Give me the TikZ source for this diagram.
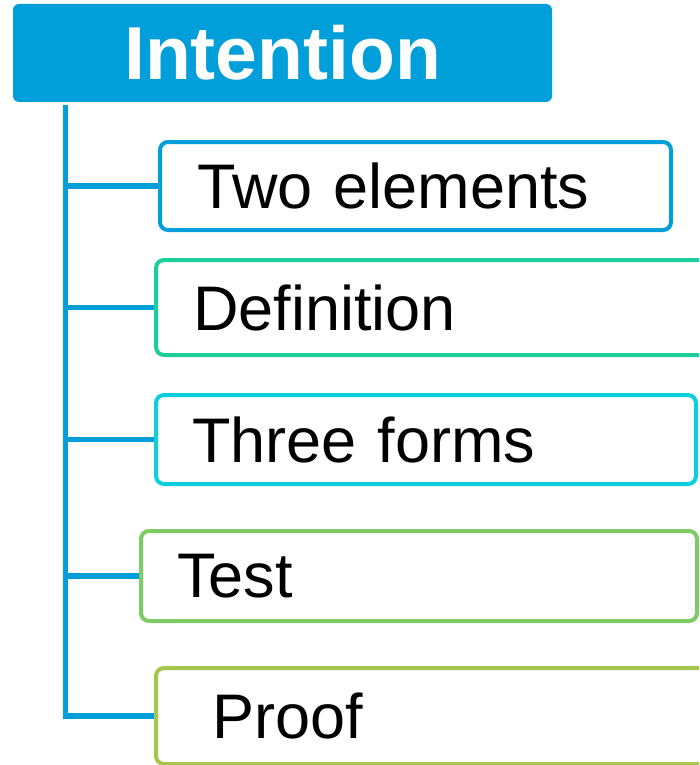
\documentclass[tikz,border=0pt]{standalone}
\usepackage{fontspec}
\setmainfont{Liberation Sans}
\usepackage{tikz}
\usetikzlibrary{positioning}
\definecolor{headblue}{RGB}{0,159,218}
\definecolor{defgreen}{RGB}{27,206,154}
\definecolor{formcyan}{RGB}{12,206,220}
\definecolor{testgreen}{RGB}{125,203,98}
\definecolor{proofgreen}{RGB}{165,198,74}
\tikzstyle{topic}=[rectangle,rounded corners=6pt,fill=headblue,text=white,inner sep=0pt,font=\fontsize{75}{80}\selectfont\bfseries]
\tikzstyle{item}=[rectangle,rounded corners=8pt,draw,line width=4pt,fill=white,inner ysep=0pt,align=left,font=\fontsize{63}{70}\selectfont]
\tikzstyle{branch}=[draw=headblue,line width=5.5pt]

\begin{document}
\begin{tikzpicture}[x=1pt,y=-1pt]
	\useasboundingbox (0,0) rectangle (699,765);
	\clip (0,0) rectangle (699,765);
	\node[topic,minimum width=539pt,minimum height=98pt] (intention) at (282.5,53) {Intention};
	\node[item,draw=headblue,inner xsep=37pt,text width=437pt,minimum height=88pt] (two) at (415.5,186) {Two elements};
	\node[item,draw=defgreen,inner xsep=37pt,text width=480pt,minimum height=95pt] (def) at (433,307.5) {Definition};
	\node[item,draw=formcyan,inner xsep=36pt,text width=468pt,minimum height=89pt] (forms) at (426,439.5) {Three forms};
	\node[item,draw=testgreen,inner xsep=36pt,text width=484pt,minimum height=90pt] (test) at (419,576) {Test};
	\node[item,draw=proofgreen,inner xsep=56pt,text width=442pt,minimum height=96pt] (proof) at (433,716) {Proof};
	\coordinate (top) at (65.5,105);
	%trunk and branches
	\draw [branch] (top) |- (proof.west);
	\path [branch] (top |- two.west) edge (two.west);
	\path [branch] (top |- def.west) edge (def.west);
	\path [branch] (top |- forms.west) edge (forms.west);
	\path [branch] (top |- test.west) edge (test.west);
\end{tikzpicture}
\end{document}
